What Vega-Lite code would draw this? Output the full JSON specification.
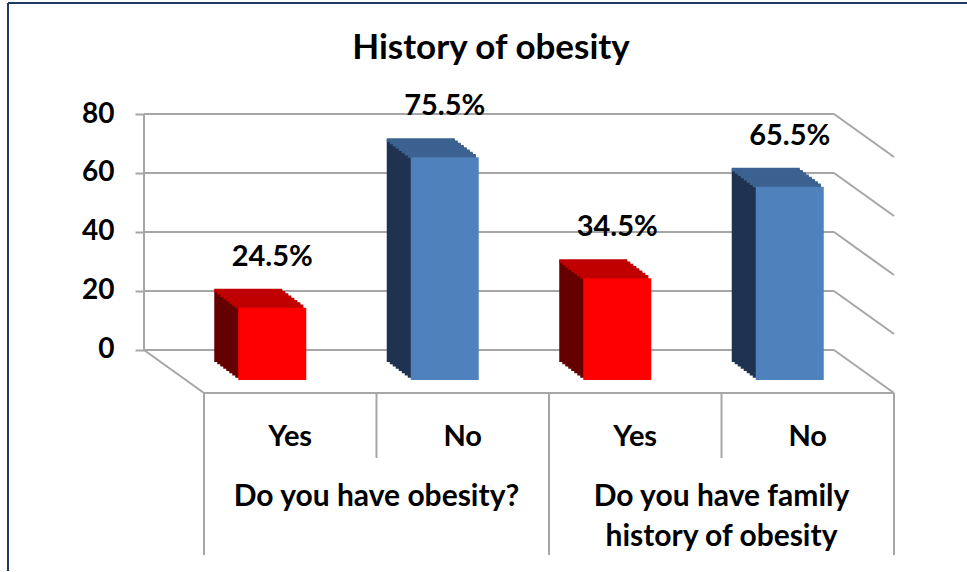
{
  "$schema": "https://vega.github.io/schema/vega-lite/v6.json",
  "width": 750,
  "height": 279,
  "padding": {"left": 6, "top": 2, "right": 0, "bottom": 0},
  "background": "white",
  "datasets": {
    "answers": [
      {"question": "Do you have obesity?", "answer": "Yes", "bar": "obesity-yes", "value": 24.5},
      {"question": "Do you have obesity?", "answer": "No", "bar": "obesity-no", "value": 75.5},
      {"question": "Do you have family\nhistory of obesity", "answer": "Yes", "bar": "family-yes", "value": 34.5},
      {"question": "Do you have family\nhistory of obesity", "answer": "No", "bar": "family-no", "value": 65.5}
    ],
    "ticks": [{"tick": 0}, {"tick": 20}, {"tick": 40}, {"tick": 60}, {"tick": 80}]
  },
  "encoding": {
    "x": {
      "field": "bar",
      "type": "nominal",
      "axis": null,
      "scale": {
        "domain": ["obesity-yes", "obesity-no", "family-yes", "family-no"],
        "paddingInner": 0,
        "paddingOuter": 0.1739,
        "align": 1
      }
    },
    "y": {
      "field": "value",
      "type": "quantitative",
      "title": null,
      "scale": {"domain": [-14.58, 80], "nice": false, "zero": false},
      "axis": {
        "title": null,
        "values": [0, 20, 40, 60, 80],
        "grid": false,
        "domain": false,
        "ticks": true,
        "tickColor": "#A6A6A6",
        "tickWidth": 2,
        "tickSize": 9,
        "labelPadding": 21,
        "labelFont": "Lato",
        "labelFontWeight": "bold",
        "labelFontSize": 28,
        "labelColor": "#000000"
      }
    }
  },
  "layer": [
    {
      "data": {"name": "ticks"},
      "transform": [{"filter": "datum.tick == 80"}],
      "layer": [
        {
          "mark": {"type": "rule", "color": "#203864", "strokeWidth": 2, "xOffset": -196, "yOffset": -111, "y2Offset": 221},
          "encoding": {
            "x": {"datum": "obesity-yes", "bandPosition": 0},
            "y": {"field": "tick", "type": "quantitative", "title": null},
            "y2": {"datum": 0}
          }
        },
        {
          "mark": {"type": "rule", "color": "#203864", "strokeWidth": 2, "xOffset": -196, "x2Offset": 73, "yOffset": -111},
          "encoding": {
            "x": {"datum": "obesity-yes", "bandPosition": 0},
            "x2": {"datum": "family-no", "bandPosition": 1},
            "y": {"field": "tick", "type": "quantitative", "title": null}
          }
        },
        {
          "mark": {"type": "text", "text": "History of obesity", "font": "Lato", "fontSize": 35, "fontWeight": "bold", "color": "#000000", "align": "center", "baseline": "middle", "xOffset": -58, "yOffset": -66},
          "encoding": {
            "x": {"datum": "family-yes", "bandPosition": 0},
            "y": {"field": "tick", "type": "quantitative", "title": null}
          }
        },
        {
          "mark": {"type": "rule", "color": "#A6A6A6", "strokeWidth": 2, "xOffset": -60},
          "encoding": {
            "x": {"datum": "obesity-yes", "bandPosition": 0},
            "y": {"field": "tick", "type": "quantitative", "title": null},
            "y2": {"datum": 0}
          }
        }
      ]
    },
    {
      "data": {"name": "ticks"},
      "mark": {"type": "rule", "color": "#A6A6A6", "strokeWidth": 2, "xOffset": -60, "x2Offset": -60},
      "encoding": {
        "x": {"datum": "obesity-yes", "bandPosition": 0},
        "x2": {"datum": "family-no", "bandPosition": 1},
        "y": {"field": "tick", "type": "quantitative", "title": null}
      }
    },
    {
      "data": {"name": "ticks"},
      "mark": {"type": "rule", "color": "#A6A6A6", "strokeWidth": 2, "xOffset": -60, "x2Offset": 0, "y2Offset": 43},
      "encoding": {
        "x": {"datum": "family-no", "bandPosition": 1},
        "x2": {"datum": "family-no", "bandPosition": 1},
        "y": {"field": "tick", "type": "quantitative", "title": null},
        "y2": {"field": "tick"}
      }
    },
    {
      "data": {"name": "ticks"},
      "transform": [{"filter": "datum.tick == 0"}],
      "layer": [
        {
          "mark": {"type": "rule", "color": "#A6A6A6", "strokeWidth": 2, "xOffset": -60, "x2Offset": 0, "y2Offset": 43},
          "encoding": {
            "x": {"datum": "obesity-yes", "bandPosition": 0},
            "x2": {"datum": "obesity-yes", "bandPosition": 0},
            "y": {"field": "tick", "type": "quantitative", "title": null},
            "y2": {"field": "tick"}
          }
        },
        {
          "mark": {"type": "rule", "color": "#A6A6A6", "strokeWidth": 2, "yOffset": 43},
          "encoding": {
            "x": {"datum": "obesity-yes", "bandPosition": 0},
            "x2": {"datum": "family-no", "bandPosition": 1},
            "y": {"field": "tick", "type": "quantitative", "title": null}
          }
        }
      ]
    },
    {
      "data": {"name": "answers"},
      "transform": [{"filter": "datum.answer === 'Yes'"}],
      "mark": {"type": "rule", "color": "#A6A6A6", "strokeWidth": 2, "yOffset": 43, "y2Offset": 205},
      "encoding": {
        "x": {"field": "bar", "type": "nominal", "bandPosition": 0},
        "y": {"datum": 0, "type": "quantitative", "title": null},
        "y2": {"datum": 0}
      }
    },
    {
      "data": {"name": "answers"},
      "transform": [{"filter": "datum.answer === 'No'"}],
      "mark": {"type": "rule", "color": "#A6A6A6", "strokeWidth": 2, "yOffset": 43, "y2Offset": 108},
      "encoding": {
        "x": {"field": "bar", "type": "nominal", "bandPosition": 0},
        "y": {"datum": 0, "type": "quantitative", "title": null},
        "y2": {"datum": 0}
      }
    },
    {
      "data": {"name": "answers"},
      "transform": [{"filter": "datum.bar === 'family-no'"}],
      "mark": {"type": "rule", "color": "#A6A6A6", "strokeWidth": 2, "yOffset": 43, "y2Offset": 205},
      "encoding": {
        "x": {"field": "bar", "type": "nominal", "bandPosition": 1},
        "y": {"datum": 0, "type": "quantitative", "title": null},
        "y2": {"datum": 0}
      }
    },
    {
      "data": {"name": "answers"},
      "layer": [
        {"mark": {"type": "bar", "width": 68, "xOffset": -42, "yOffset": 12, "y2Offset": 12}, "encoding": {"y2": {"datum": 0}, "fill": {"condition": {"test": "datum.answer === 'Yes'", "value": "#650000"}, "value": "#1F3350"}}},
        {"mark": {"type": "bar", "width": 68, "xOffset": -42, "yOffset": 11, "y2Offset": 14.75}, "encoding": {"y2": {"field": "value"}, "fill": {"condition": {"test": "datum.answer === 'Yes'", "value": "#C00000"}, "value": "#3B6291"}}},
        {"mark": {"type": "bar", "width": 68, "xOffset": -39, "yOffset": 14.25, "y2Offset": 14.25}, "encoding": {"y2": {"datum": 0}, "fill": {"condition": {"test": "datum.answer === 'Yes'", "value": "#650000"}, "value": "#1F3350"}}},
        {"mark": {"type": "bar", "width": 68, "xOffset": -39, "yOffset": 13.25, "y2Offset": 17}, "encoding": {"y2": {"field": "value"}, "fill": {"condition": {"test": "datum.answer === 'Yes'", "value": "#C00000"}, "value": "#3B6291"}}},
        {"mark": {"type": "bar", "width": 68, "xOffset": -36, "yOffset": 16.5, "y2Offset": 16.5}, "encoding": {"y2": {"datum": 0}, "fill": {"condition": {"test": "datum.answer === 'Yes'", "value": "#650000"}, "value": "#1F3350"}}},
        {"mark": {"type": "bar", "width": 68, "xOffset": -36, "yOffset": 15.5, "y2Offset": 19.25}, "encoding": {"y2": {"field": "value"}, "fill": {"condition": {"test": "datum.answer === 'Yes'", "value": "#C00000"}, "value": "#3B6291"}}},
        {"mark": {"type": "bar", "width": 68, "xOffset": -33, "yOffset": 18.75, "y2Offset": 18.75}, "encoding": {"y2": {"datum": 0}, "fill": {"condition": {"test": "datum.answer === 'Yes'", "value": "#650000"}, "value": "#1F3350"}}},
        {"mark": {"type": "bar", "width": 68, "xOffset": -33, "yOffset": 17.75, "y2Offset": 21.5}, "encoding": {"y2": {"field": "value"}, "fill": {"condition": {"test": "datum.answer === 'Yes'", "value": "#C00000"}, "value": "#3B6291"}}},
        {"mark": {"type": "bar", "width": 68, "xOffset": -30, "yOffset": 21, "y2Offset": 21}, "encoding": {"y2": {"datum": 0}, "fill": {"condition": {"test": "datum.answer === 'Yes'", "value": "#650000"}, "value": "#1F3350"}}},
        {"mark": {"type": "bar", "width": 68, "xOffset": -30, "yOffset": 20, "y2Offset": 23.75}, "encoding": {"y2": {"field": "value"}, "fill": {"condition": {"test": "datum.answer === 'Yes'", "value": "#C00000"}, "value": "#3B6291"}}},
        {"mark": {"type": "bar", "width": 68, "xOffset": -27, "yOffset": 23.25, "y2Offset": 23.25}, "encoding": {"y2": {"datum": 0}, "fill": {"condition": {"test": "datum.answer === 'Yes'", "value": "#650000"}, "value": "#1F3350"}}},
        {"mark": {"type": "bar", "width": 68, "xOffset": -27, "yOffset": 22.25, "y2Offset": 26}, "encoding": {"y2": {"field": "value"}, "fill": {"condition": {"test": "datum.answer === 'Yes'", "value": "#C00000"}, "value": "#3B6291"}}},
        {"mark": {"type": "bar", "width": 68, "xOffset": -24, "yOffset": 25.5, "y2Offset": 25.5}, "encoding": {"y2": {"datum": 0}, "fill": {"condition": {"test": "datum.answer === 'Yes'", "value": "#650000"}, "value": "#1F3350"}}},
        {"mark": {"type": "bar", "width": 68, "xOffset": -24, "yOffset": 24.5, "y2Offset": 28.25}, "encoding": {"y2": {"field": "value"}, "fill": {"condition": {"test": "datum.answer === 'Yes'", "value": "#C00000"}, "value": "#3B6291"}}},
        {"mark": {"type": "bar", "width": 68, "xOffset": -21, "yOffset": 27.75, "y2Offset": 27.75}, "encoding": {"y2": {"datum": 0}, "fill": {"condition": {"test": "datum.answer === 'Yes'", "value": "#650000"}, "value": "#1F3350"}}},
        {"mark": {"type": "bar", "width": 68, "xOffset": -21, "yOffset": 26.75, "y2Offset": 30.5}, "encoding": {"y2": {"field": "value"}, "fill": {"condition": {"test": "datum.answer === 'Yes'", "value": "#C00000"}, "value": "#3B6291"}}},
        {"mark": {"type": "bar", "width": 68, "xOffset": -18, "yOffset": 30, "y2Offset": 30}, "encoding": {"y2": {"datum": 0}, "fill": {"condition": {"test": "datum.answer === 'Yes'", "value": "#FF0000"}, "value": "#4F81BD"}}}
      ]
    },
    {
      "data": {"name": "answers"},
      "transform": [{"calculate": "datum.value + '%'", "as": "label"}],
      "mark": {"type": "text", "font": "Lato", "fontSize": 29, "fontWeight": "bold", "color": "#000000", "xOffset": -18, "yOffset": -21, "baseline": "middle", "align": "center"},
      "encoding": {"text": {"field": "label"}}
    },
    {
      "data": {"name": "answers"},
      "mark": {"type": "text", "font": "Lato", "fontSize": 29, "fontWeight": "bold", "color": "#000000", "baseline": "middle", "align": "center", "yOffset": 87},
      "encoding": {
        "y": {"datum": 0, "type": "quantitative", "title": null},
        "text": {"field": "answer"}
      }
    },
    {
      "data": {"name": "answers"},
      "transform": [{"filter": "datum.answer === 'No'"}],
      "mark": {"type": "text", "font": "Lato", "fontSize": 30, "fontWeight": "bold", "color": "#000000", "baseline": "top", "align": "center", "lineBreak": "\n", "lineHeight": 40, "yOffset": 132},
      "encoding": {
        "x": {"field": "bar", "type": "nominal", "bandPosition": 0},
        "y": {"datum": 0, "type": "quantitative", "title": null},
        "text": {"field": "question"}
      }
    }
  ],
  "config": {
    "view": {"stroke": null},
    "text": {"font": "Lato"}
  }
}
